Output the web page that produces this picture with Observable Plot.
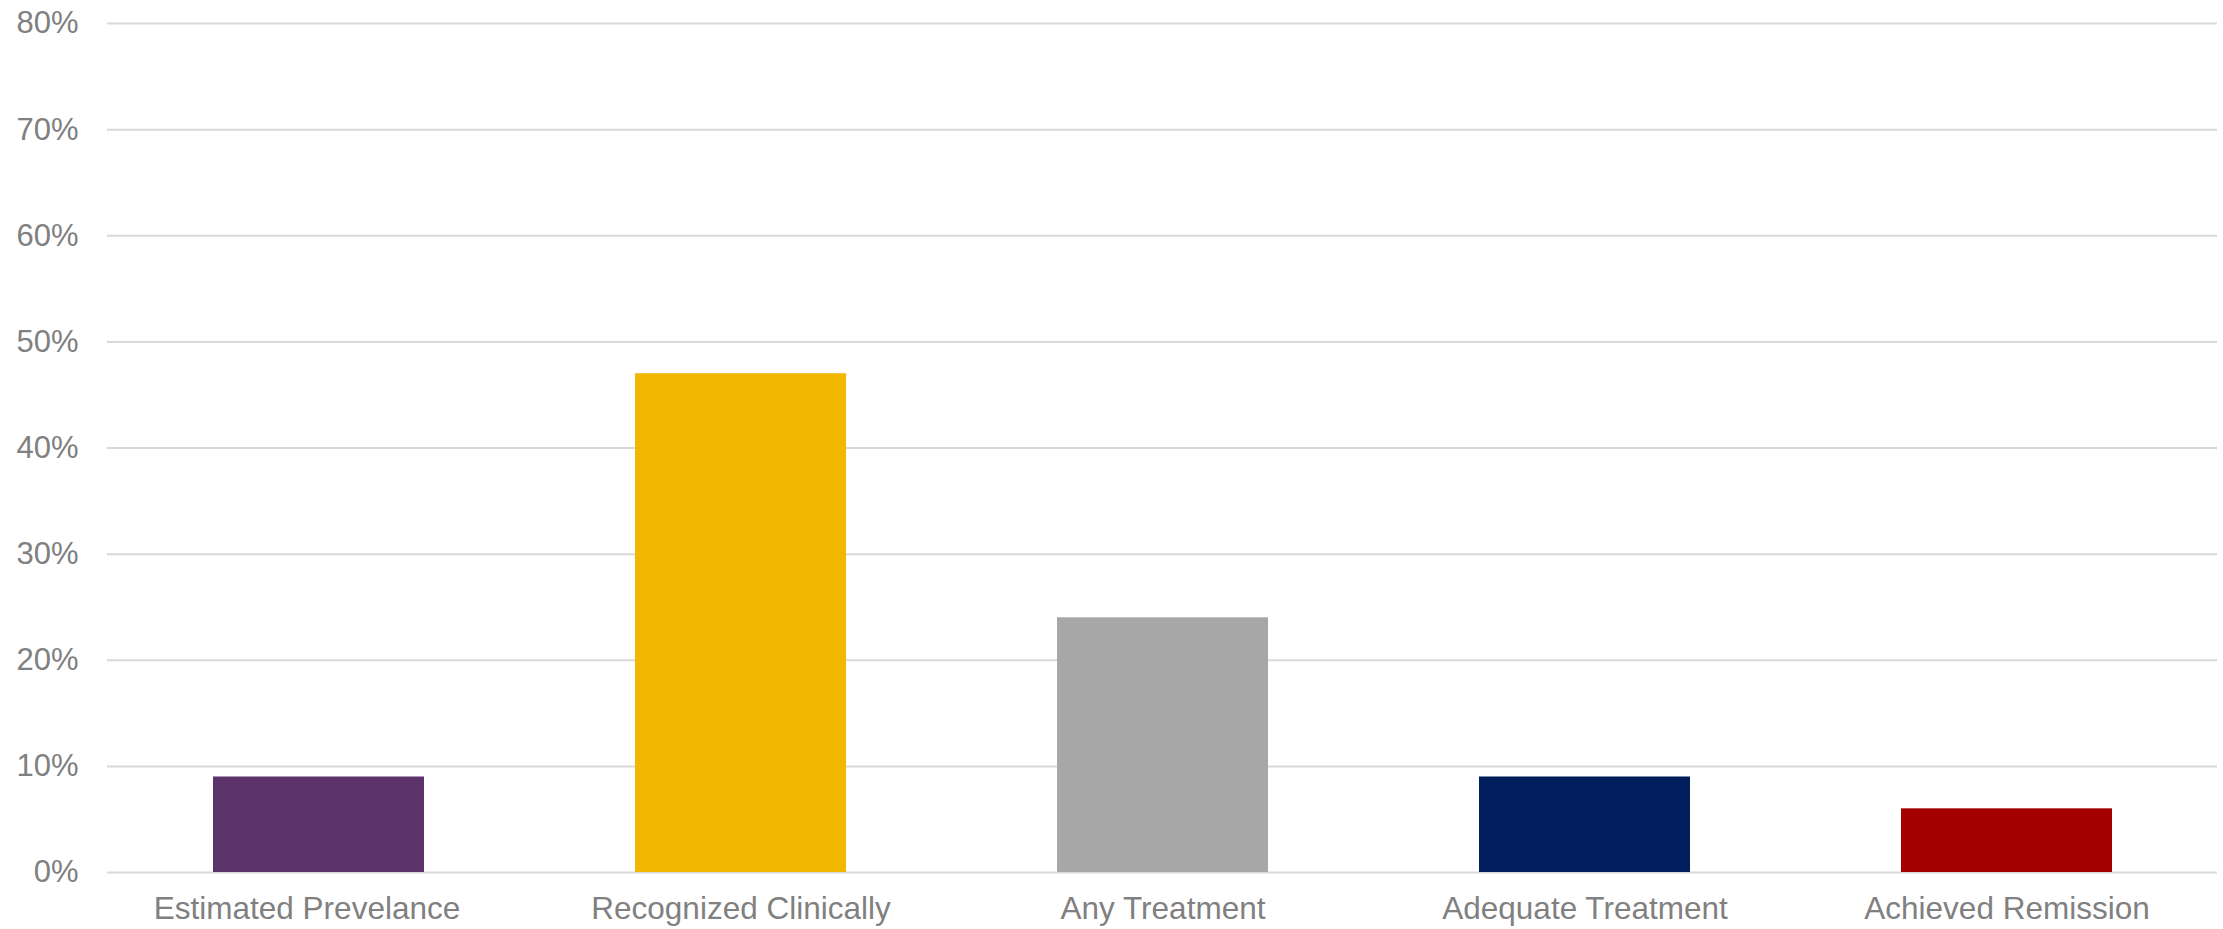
<!DOCTYPE html>
<html>
<head>
<meta charset="utf-8">
<script src="https://cdn.jsdelivr.net/npm/d3@7"></script>
<script src="https://cdn.jsdelivr.net/npm/@observablehq/plot@0.6"></script>
<style>
  html, body { margin: 0; padding: 0; background: #fff; }
  #chart svg { display: block; }
</style>
</head>
<body>
<div id="chart"></div>
<script>
const categories = ["Estimated Prevelance", "Recognized Clinically", "Any Treatment", "Adequate Treatment", "Achieved Remission"];
const values = [0.09, 0.47, 0.24, 0.09, 0.06];
const colors = ["#5B3269", "#F0B800", "#A7A7A7", "#001F5C", "#A50000"];
const yTicks = [0, 0.1, 0.2, 0.3, 0.4, 0.5, 0.6, 0.7, 0.8];

const data = categories.map((c, i) => ({category: c, value: values[i], color: colors[i]}));

const xAxisStyle = {tickSize: 0, tickPadding: 24, label: null, fill: "#808080", fontSize: 31.5};

const chart = Plot.plot({
  width: 2223,
  height: 929,
  marginLeft: 107,
  marginRight: 6,
  marginTop: 23,
  marginBottom: 57,
  style: {fontFamily: "'Liberation Sans', Arial, sans-serif", fontSize: "31px", color: "#808080", background: "#fff"},
  x: {domain: categories, paddingInner: 0.5, paddingOuter: 0.25, label: null},
  y: {domain: [0, 0.8], label: null},
  marks: [
    Plot.ruleY(yTicks, {stroke: "#d9d9d9", strokeWidth: 2}),
    Plot.barY(data, {x: "category", y: "value", fill: "color"}),
    Plot.axisY(yTicks, {tickSize: 0, tickPadding: 29, tickFormat: d3.format(".0%"), label: null, fill: "#808080", fontSize: 31}),
    Plot.axisX(categories.slice(0, 1), {...xAxisStyle, dx: -12}),
    Plot.axisX(categories.slice(1), xAxisStyle)
  ]
});
document.getElementById("chart").appendChild(chart);
</script>
</body>
</html>
